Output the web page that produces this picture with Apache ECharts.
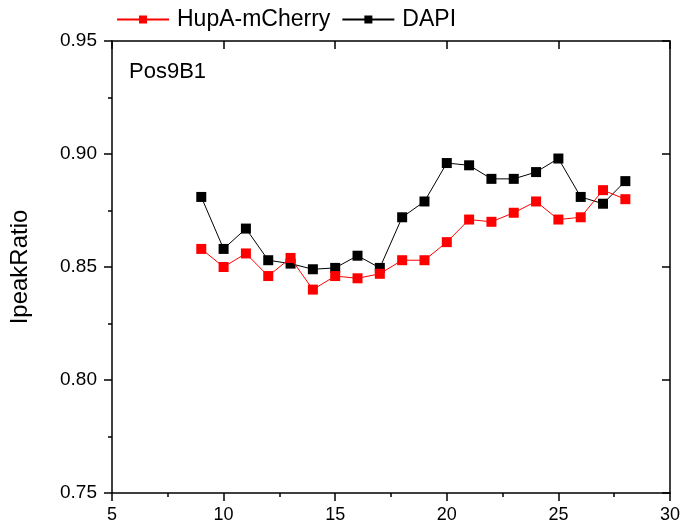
<!DOCTYPE html>
<html>
<head>
<meta charset="utf-8">
<script src="https://cdn.jsdelivr.net/npm/echarts@6/dist/echarts.min.js"></script>
<style>
html,body{margin:0;padding:0;background:#fff;}
#chart{width:683px;height:527px;}
</style>
</head>
<body>
<div id="chart"></div>
<script>
const frames = [9,10,11,12,13,14,15,16,17,18,19,20,21,22,23,24,25,26,27,28];
const hupA = [0.858,0.850,0.856,0.846,0.854,0.840,0.846,0.845,0.847,0.853,0.853,0.861,0.871,0.870,0.874,0.879,0.871,0.872,0.884,0.880];
const dapi = [0.881,0.858,0.867,0.853,0.8515,0.849,0.8496,0.855,0.8496,0.872,0.879,0.896,0.895,0.889,0.889,0.892,0.898,0.881,0.878,0.888];
const xTicks = [5,10,15,20,25,30];
const yTicks = [0.75,0.80,0.85,0.90,0.95];

const FONT = 'Liberation Sans, Arial, sans-serif';
const chart = echarts.init(document.getElementById('chart'), null, {renderer:'canvas'});
const pair = (xs, ys) => xs.map((x,i)=>[x, ys[i]]);
const axLine = {show:true, lineStyle:{color:'#000', width:1.5}};

chart.setOption({
  backgroundColor:'#fff',
  animation:false,
  grid:{left:112, right:11, top:41, bottom:34},
  legend:{
    left:116, top:8, padding:0, itemGap:11,
    itemWidth:52, itemHeight:10,
    data:['HupA-mCherry','DAPI'],
    textStyle:{fontFamily:FONT, fontSize:23, color:'#000', padding:[0,0,0,3]}
  },
  graphic:[{type:'text', left:129, top:61, style:{text:'Pos9B1', font:'22px Liberation Sans, Arial, sans-serif', fill:'#000'}}],
  xAxis:[{
    type:'value', min:xTicks[0], max:xTicks[xTicks.length-1], interval:5, position:'bottom',
    axisLine:axLine,
    axisTick:{show:true, inside:false, length:8, lineStyle:{color:'#000', width:1.5}},
    minorTick:{show:true, splitNumber:2, length:4, lineStyle:{color:'#000', width:1.5}},
    splitLine:{show:false},
    axisLabel:{color:'#000', fontFamily:FONT, fontSize:18, margin:13}
  },{
    type:'value', min:xTicks[0], max:xTicks[xTicks.length-1], interval:5, position:'top',
    axisLine:axLine,
    axisTick:{show:true, inside:true, length:8, lineStyle:{color:'#000', width:1.5}},
    splitLine:{show:false},
    axisLabel:{show:false}
  }],
  yAxis:[{
    type:'value', min:yTicks[0], max:yTicks[yTicks.length-1], interval:0.05, position:'left',
    name:'IpeakRatio', nameLocation:'middle', nameGap:80,
    nameTextStyle:{fontFamily:FONT, fontSize:24, color:'#000'},
    axisLine:axLine,
    axisTick:{show:true, inside:false, length:8, lineStyle:{color:'#000', width:1.5}},
    minorTick:{show:true, splitNumber:2, length:4, lineStyle:{color:'#000', width:1.5}},
    splitLine:{show:false},
    axisLabel:{color:'#000', fontFamily:FONT, fontSize:19, margin:15, formatter:v=>v.toFixed(2)}
  },{
    type:'value', min:yTicks[0], max:yTicks[yTicks.length-1], interval:0.05, position:'right',
    axisLine:axLine,
    axisTick:{show:true, inside:true, length:8, lineStyle:{color:'#000', width:1.5}},
    splitLine:{show:false},
    axisLabel:{show:false}
  }],
  series:[{
    name:'DAPI', type:'line', data:pair(frames, dapi),
    symbol:'rect', symbolSize:10,
    lineStyle:{color:'#000', width:1},
    itemStyle:{color:'#000'}, z:2
  },{
    name:'HupA-mCherry', type:'line', data:pair(frames, hupA),
    symbol:'rect', symbolSize:10,
    lineStyle:{color:'#ff0000', width:1},
    itemStyle:{color:'#ff0000'}, z:3
  }]
});
</script>
</body>
</html>
